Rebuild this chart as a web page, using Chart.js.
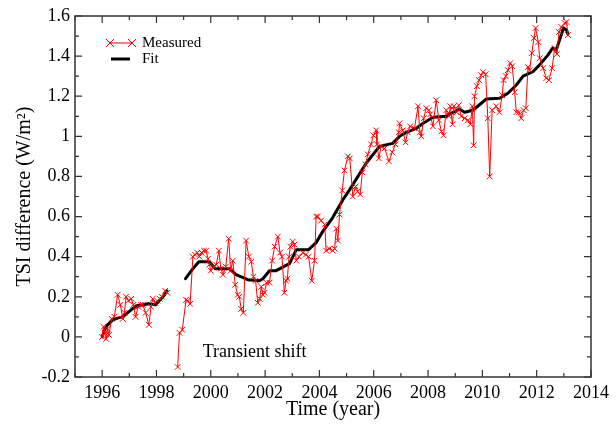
<!DOCTYPE html>
<html>
<head>
<meta charset="utf-8">
<script src="https://cdn.jsdelivr.net/npm/chart.js@4"></script>
<style>
  body { margin: 0; background: #fff; }
</style>
</head>
<body>
<canvas id="tsi-chart" width="616" height="425"></canvas>
<script>
// measured TSI difference (null = gap in the record)
var measuredYears = [
  1996.00, 1996.05, 1996.10, 1996.15, 1996.20, 1996.25, 1996.35, 1996.45, 1996.57, 1996.67,
  1996.76, 1996.82, 1996.88, 1996.97, 1997.07, 1997.15, 1997.23, 1997.33, 1997.42, 1997.50,
  1997.60, 1997.72, 1997.80, 1997.86, 1997.95, 1998.03, 1998.12, 1998.20, 1998.32, 1998.40,
  1998.60,
  1998.78, 1998.85, 1998.95, 1999.09, 1999.15, 1999.24, 1999.34, 1999.42, 1999.50, 1999.58,
  1999.66, 1999.75, 1999.83, 1999.90, 1999.95, 2000.00, 2000.10, 2000.20, 2000.30, 2000.37,
  2000.45, 2000.55, 2000.66, 2000.73, 2000.81, 2000.90, 2000.99, 2001.05, 2001.12, 2001.20,
  2001.30, 2001.40, 2001.49, 2001.57, 2001.65, 2001.73, 2001.80, 2001.86, 2001.92, 2001.98,
  2002.05, 2002.16, 2002.26, 2002.35, 2002.47, 2002.55, 2002.62, 2002.71, 2002.77, 2002.82,
  2002.88, 2002.93, 2003.02, 2003.08, 2003.15, 2003.25, 2003.39, 2003.50, 2003.60, 2003.72,
  2003.82, 2003.88, 2003.94, 2004.06, 2004.19, 2004.25, 2004.36, 2004.49, 2004.56, 2004.62,
  2004.68, 2004.74, 2004.84, 2004.92, 2005.05, 2005.12, 2005.23, 2005.33, 2005.41, 2005.50,
  2005.58, 2005.70, 2005.78, 2005.90, 2005.99, 2006.09, 2006.12, 2006.19, 2006.27, 2006.40,
  2006.56, 2006.68, 2006.80, 2006.92, 2006.95, 2007.07, 2007.17, 2007.25, 2007.34, 2007.50,
  2007.63, 2007.70, 2007.75, 2007.84, 2007.93, 2008.03, 2008.08, 2008.18, 2008.30, 2008.40,
  2008.49, 2008.57, 2008.67, 2008.77, 2008.82, 2008.90, 2008.95, 2009.05, 2009.13, 2009.22,
  2009.35, 2009.47, 2009.56, 2009.63, 2009.68, 2009.71, 2009.80, 2009.88, 2009.96, 2010.03,
  2010.12, 2010.20, 2010.27, 2010.36, 2010.51, 2010.63, 2010.73, 2010.78, 2010.86, 2010.94,
  2011.03, 2011.10, 2011.19, 2011.25, 2011.35, 2011.43, 2011.52, 2011.60, 2011.68, 2011.74,
  2011.82, 2011.90, 2011.96, 2012.06, 2012.11, 2012.24, 2012.35, 2012.45, 2012.57, 2012.66,
  2012.75, 2012.82, 2012.91, 2013.03, 2013.10, 2013.15
];
var measuredValues = [
  0.00, 0.05, 0.02, -0.01, 0.04, 0.01, 0.09, 0.10, 0.21, 0.16,
  0.09, 0.12, 0.20, 0.18, 0.19, 0.16, 0.10, 0.15, 0.16, 0.16,
  0.12, 0.06, 0.15, 0.19, 0.17, 0.18, 0.19, 0.20, 0.23, 0.22,
  null,
  -0.15, 0.02, 0.035, 0.185, 0.18, 0.165, 0.40, 0.41, 0.42, 0.40,
  0.42, 0.43, 0.43, 0.39, 0.36, 0.33, 0.35, 0.36, 0.43, 0.34,
  0.31, 0.35, 0.49, 0.33, 0.38, 0.26, 0.21, 0.20, 0.14, 0.12,
  0.48, 0.40, 0.375, 0.30, 0.28, 0.17, 0.19, 0.25, 0.21, 0.22,
  0.27, 0.27, 0.38, 0.45, 0.50, 0.42, 0.40, 0.22, 0.28, 0.29,
  0.40, 0.45, 0.475, 0.46, 0.38, 0.40, 0.42, 0.41, 0.40, 0.28,
  0.38, 0.60, 0.60, 0.58, 0.56, 0.43, 0.44, 0.43, 0.44, 0.54,
  0.48, 0.61, 0.73, 0.83, 0.90, 0.89, 0.70, 0.75, 0.725, 0.71,
  0.82, 0.86, 0.91, 0.96, 1.005, 1.03, 0.96, 0.89, 0.95, 0.94,
  0.875, 0.92, 0.96, 1.02, 1.065, 1.03, 0.97, 1.02, 1.05, 1.04,
  1.15, 1.02, 1.00, 1.09, 1.14, 1.13, 1.11, 1.05, 1.18, 1.08,
  1.025, 1.005, 1.13, 1.10, 1.15, 1.06, 1.15, 1.12, 1.155, 1.10,
  1.09, 1.08, 1.06, 1.15, 0.955, 1.20, 1.25, 1.28, 1.305, 1.32,
  1.31, 1.09, 0.80, 1.13, 1.15, 1.12, 1.205, 1.28, 1.30, 1.33,
  1.365, 1.35, 1.22, 1.12, 1.12, 1.09, 1.13, 1.14, 1.345, 1.33,
  1.415, 1.49, 1.54, 1.47, 1.39, 1.34, 1.29, 1.28, 1.34, 1.44,
  1.41, 1.52, 1.545, 1.565, 1.57, 1.505
];

// smoothed fit
var fitYears = [
  1996.00, 1996.10, 1996.20, 1996.39, 1996.60, 1996.75, 1997.07, 1997.27, 1997.50, 1997.70,
  1997.97, 1998.10, 1998.30, 1998.38,
  1998.70,
  1999.07, 1999.34, 1999.56, 1999.95, 2000.17, 2000.68, 2000.93, 2001.36, 2001.79, 2001.92,
  2002.16, 2002.40, 2002.90, 2003.15, 2003.60, 2003.88, 2004.12, 2004.49, 2004.86, 2005.11,
  2005.72, 2006.21, 2006.70, 2006.95, 2007.20, 2007.57, 2007.82, 2008.18, 2008.67, 2008.92,
  2009.16, 2009.35, 2009.65, 2009.96, 2010.14, 2010.63, 2010.94, 2011.25, 2011.50, 2011.86,
  2012.10, 2012.41, 2012.59, 2012.72, 2012.84, 2012.99, 2013.10, 2013.15
];
var fitValues = [
  0.00, 0.04, 0.06, 0.085, 0.095, 0.10, 0.135, 0.155, 0.16, 0.165,
  0.16, 0.18, 0.21, 0.23,
  null,
  0.29, 0.34, 0.375, 0.375, 0.34, 0.34, 0.31, 0.285, 0.28, 0.29,
  0.33, 0.33, 0.365, 0.435, 0.435, 0.47, 0.525, 0.595, 0.683, 0.733,
  0.866, 0.95, 0.965, 1.00, 1.02, 1.04, 1.065, 1.095, 1.10, 1.12,
  1.135, 1.12, 1.13, 1.165, 1.186, 1.19, 1.215, 1.256, 1.30, 1.322,
  1.355, 1.405, 1.44, 1.43, 1.48, 1.54, 1.53, 1.51
];

var xTickLabels = [1996, 1998, 2000, 2002, 2004, 2006, 2008, 2010, 2012, 2014];
var yTickLabels = ['-0.2', '0', '0.2', '0.4', '0.6', '0.8', '1', '1.2', '1.4', '1.6'];

function toPoints(xs, ys) {
    var pts = [];
    for (var i = 0; i < xs.length; i++) pts.push({x: xs[i], y: ys[i]});
    return pts;
}

var serif = '"Liberation Serif", "Times New Roman", serif';

// frame with inward ticks on all four sides, legend and the annotation
var framePlugin = {
    id: 'frame',
    afterDraw: function(chart) {
        var ctx = chart.ctx;
        var a = chart.chartArea;
        var xs = chart.scales.x, ys = chart.scales.y;
        ctx.save();
        ctx.strokeStyle = '#333';
        ctx.lineWidth = 1.5;
        ctx.strokeRect(a.left, a.top, a.right - a.left, a.bottom - a.top);
        ctx.lineWidth = 1.2;
        ctx.beginPath();
        for (var yr = 1995; yr <= 2014; yr++) {
            var px = xs.getPixelForValue(yr);
            var len = yr % 2 === 0 ? 7 : 4;
            ctx.moveTo(px, a.bottom); ctx.lineTo(px, a.bottom - len);
            ctx.moveTo(px, a.top); ctx.lineTo(px, a.top + len);
        }
        for (var k = -2; k <= 16; k++) {
            var py = ys.getPixelForValue(k / 10);
            var l2 = k % 2 === 0 ? 7 : 4;
            ctx.moveTo(a.left, py); ctx.lineTo(a.left + l2, py);
            ctx.moveTo(a.right, py); ctx.lineTo(a.right - l2, py);
        }
        ctx.stroke();

        // legend
        ctx.strokeStyle = 'red';
        ctx.lineWidth = 1;
        ctx.beginPath();
        ctx.moveTo(110, 43); ctx.lineTo(132, 43);
        [110, 132].forEach(function(cx) {
            ctx.moveTo(cx - 4, 39); ctx.lineTo(cx + 4, 47);
            ctx.moveTo(cx - 4, 47); ctx.lineTo(cx + 4, 39);
        });
        ctx.stroke();
        ctx.strokeStyle = '#000';
        ctx.lineWidth = 3;
        ctx.beginPath();
        ctx.moveTo(111, 59); ctx.lineTo(130, 59);
        ctx.stroke();
        ctx.fillStyle = '#000';
        ctx.font = '15px ' + serif;
        ctx.textBaseline = 'middle';
        ctx.textAlign = 'left';
        ctx.fillText('Measured', 142, 43);
        ctx.fillText('Fit', 142, 59);

        // annotation
        ctx.font = '18px ' + serif;
        ctx.fillText('Transient shift', xs.getPixelForValue(1999.7), ys.getPixelForValue(-0.075));
        ctx.restore();
    }
};

var ctx = document.getElementById('tsi-chart');

var tsiChart = new Chart(ctx, {
    type: 'line',
    data: {
        datasets: [{
            label: 'Measured',
            data: toPoints(measuredYears, measuredValues),
            borderColor: 'red',
            backgroundColor: 'red',
            borderWidth: 1,
            pointStyle: 'crossRot',
            pointRadius: 4,
            pointBorderWidth: 1,
            pointBorderColor: 'red',
            spanGaps: false,
            tension: 0
        }, {
            label: 'Fit',
            data: toPoints(fitYears, fitValues),
            borderColor: '#000',
            borderWidth: 3,
            borderJoinStyle: 'round',
            borderCapStyle: 'round',
            pointRadius: 0,
            spanGaps: false,
            tension: 0
        }]
    },
    options: {
        responsive: false,
        animation: false,
        devicePixelRatio: 1,
        layout: {
            padding: {left: 0, right: 25, top: 16, bottom: 0}
        },
        plugins: {
            legend: {display: false},
            tooltip: {enabled: false}
        },
        scales: {
            x: {
                type: 'linear',
                min: 1995,
                max: 2014,
                afterFit: function(s) { s.height = 48; },
                grid: {display: false, drawTicks: false},
                border: {display: false},
                ticks: {
                    stepSize: 1,
                    autoSkip: false,
                    maxRotation: 0,
                    padding: 5,
                    color: '#000',
                    font: {family: serif, size: 18},
                    callback: function(v) {
                        return xTickLabels.indexOf(v) >= 0 ? String(v) : '';
                    }
                },
                title: {
                    display: true,
                    text: 'Time (year)',
                    color: '#000',
                    font: {family: serif, size: 20},
                    padding: {top: 0, bottom: 3}
                }
            },
            y: {
                type: 'linear',
                min: -0.2,
                max: 1.6,
                afterFit: function(s) { s.width = 75; },
                grid: {display: false, drawTicks: false},
                border: {display: false},
                ticks: {
                    stepSize: 0.2,
                    padding: 5,
                    color: '#000',
                    font: {family: serif, size: 18},
                    callback: function(v) {
                        var idx = Math.round((v + 0.2) / 0.2);
                        return yTickLabels[idx];
                    }
                },
                title: {
                    display: true,
                    text: 'TSI difference (W/m\u00b2)',
                    color: '#000',
                    font: {family: serif, size: 20},
                    padding: {top: 13, bottom: 0}
                }
            }
        }
    },
    plugins: [framePlugin]
});
</script>
</body>
</html>
